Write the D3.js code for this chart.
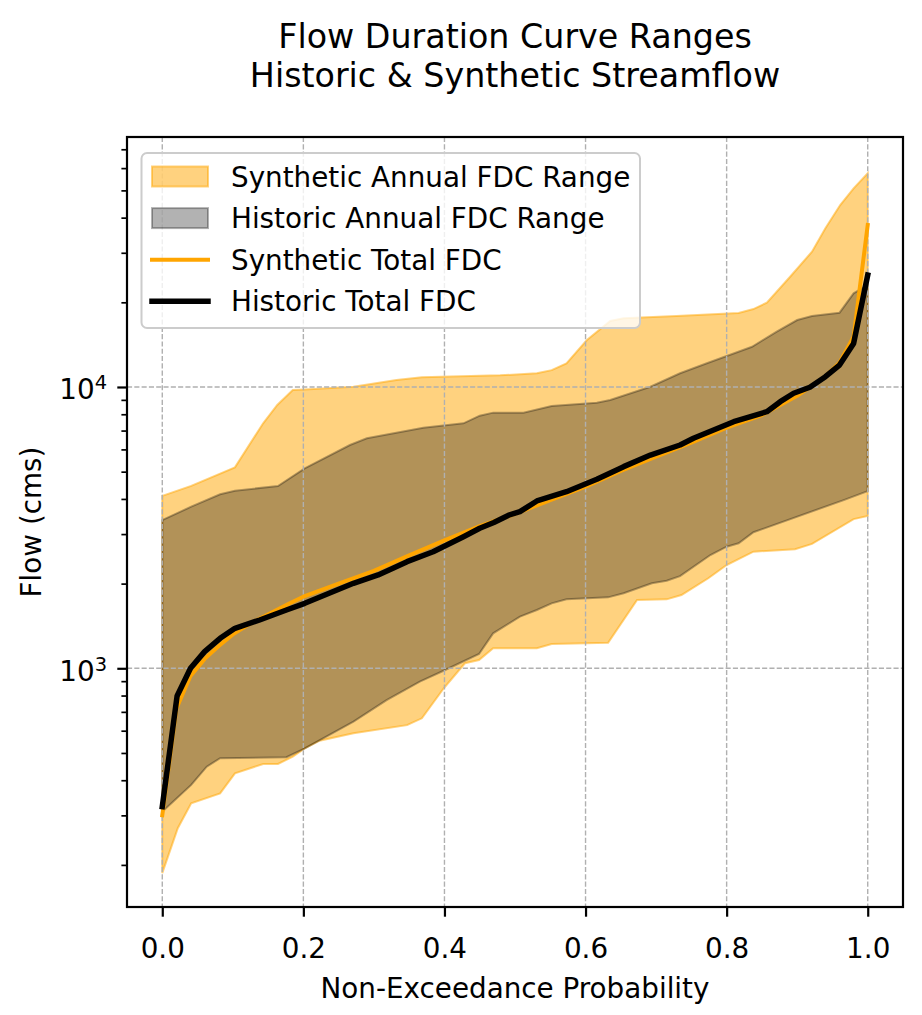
<!DOCTYPE html>
<html>
<head>
<meta charset="utf-8">
<script src="https://cdn.jsdelivr.net/npm/d3@7"></script>
<style>
  html, body { margin: 0; padding: 0; background: #fff; }
  text { font-family: "DejaVu Sans", sans-serif; fill: #000; }
</style>
</head>
<body>
<div id="container"></div>
<script>
// non-exceedance probability / flow (cms) pairs
const synthUpperP = [0, 0.041, 0.103, 0.143, 0.163, 0.185, 0.202, 0.271, 0.332, 0.368, 0.479, 0.531, 0.552, 0.573, 0.602, 0.635, 0.654, 0.729, 0.817, 0.838, 0.857, 0.890, 0.921, 0.940, 0.961, 0.980, 1.0];
const synthUpper  = [4100, 4450, 5180, 7430, 8630, 9750, 9790, 10020, 10590, 10830, 11000, 11190, 11480, 12140, 14690, 17160, 17540, 17880, 18330, 18930, 19940, 24660, 30270, 36650, 44340, 50800, 57500];

const synthLowerP = [0, 0.022, 0.041, 0.082, 0.103, 0.143, 0.164, 0.185, 0.202, 0.223, 0.271, 0.347, 0.368, 0.399, 0.429, 0.449, 0.469, 0.531, 0.552, 0.632, 0.673, 0.715, 0.736, 0.774, 0.800, 0.838, 0.897, 0.921, 0.980, 1.0];
const synthLower  = [187, 270, 331, 359, 423, 457, 457, 485, 519, 553, 588, 628, 664, 849, 1042, 1070, 1178, 1178, 1220, 1233, 1749, 1758, 1822, 2089, 2328, 2597, 2649, 2767, 3390, 3477];

const histUpperP = [0, 0.041, 0.082, 0.103, 0.164, 0.202, 0.266, 0.290, 0.370, 0.427, 0.450, 0.469, 0.512, 0.552, 0.616, 0.635, 0.692, 0.734, 0.772, 0.836, 0.871, 0.900, 0.921, 0.960, 0.980, 1.0];
const histUpper  = [3365, 3754, 4155, 4279, 4446, 5140, 6220, 6572, 7166, 7430, 7907, 8107, 8100, 8560, 8790, 8990, 10020, 11190, 12140, 13900, 15730, 17300, 17880, 18370, 21530, 23050];

const histLowerP = [0, 0.041, 0.063, 0.082, 0.176, 0.202, 0.271, 0.318, 0.365, 0.401, 0.449, 0.469, 0.507, 0.531, 0.552, 0.573, 0.632, 0.654, 0.694, 0.715, 0.734, 0.777, 0.800, 0.817, 0.838, 0.966, 1.0];
const histLower  = [309, 385, 447, 479, 483, 519, 646, 771, 896, 986, 1124, 1331, 1526, 1611, 1702, 1758, 1787, 1848, 2005, 2047, 2127, 2528, 2706, 2782, 3045, 3963, 4266];

const synthTotalP = [0, 0.02, 0.04, 0.06, 0.08, 0.10, 0.12, 0.14, 0.16, 0.18, 0.20, 0.25, 0.30, 0.35, 0.40, 0.45, 0.50, 0.55, 0.60, 0.65, 0.70, 0.75, 0.80, 0.85, 0.90, 0.94, 0.96, 0.98, 1.0];
const synthTotal  = [300, 720, 940, 1080, 1200, 1320, 1420, 1510, 1600, 1700, 1797, 2000, 2220, 2520, 2850, 3200, 3540, 3960, 4420, 5030, 5650, 6340, 7170, 7950, 9300, 10900, 12200, 15100, 37700];

const histTotalP = [0, 0.021, 0.040, 0.060, 0.082, 0.103, 0.138, 0.176, 0.202, 0.271, 0.306, 0.327, 0.347, 0.384, 0.427, 0.450, 0.470, 0.491, 0.507, 0.531, 0.573, 0.616, 0.654, 0.692, 0.734, 0.753, 0.810, 0.857, 0.876, 0.895, 0.918, 0.940, 0.960, 0.980, 1.0];
const histTotal  = [322, 797, 1000, 1146, 1278, 1387, 1485, 1611, 1702, 2005, 2147, 2267, 2394, 2597, 2937, 3146, 3300, 3500, 3604, 3933, 4245, 4700, 5210, 5730, 6220, 6572, 7527, 8170, 8867, 9498, 9980, 10880, 11970, 14290, 25000];

const xTicks = [0, 0.2, 0.4, 0.6, 0.8, 1.0];
const yMajor = [1000, 10000];
const yMinor = [200, 300, 400, 500, 600, 700, 800, 900, 2000, 3000, 4000, 5000, 6000, 7000, 8000, 9000, 20000, 30000, 40000, 50000, 60000, 70000];
const legendLabels = ["Synthetic Annual FDC Range", "Historic Annual FDC Range", "Synthetic Total FDC", "Historic Total FDC"];

const W = 922, H = 1015;
const L = 127, R = 903, T = 137, B = 907;
const FS = 27.8;

const svg = d3.select('#container').append('svg')
  .attr('width', W).attr('height', H);

const x = d3.scaleLinear().domain([-0.05, 1.05]).range([L, R]);
const y = d3.scaleLog().domain([141.7, 77400]).range([B, T]);

const zip = (p, v) => p.map((d, i) => [d, v[i]]);
const line = d3.line().x(d => x(d[0])).y(d => y(d[1]));
const band = (pu, vu, pl, vl) => line(zip(pu, vu).concat(zip(pl, vl).reverse())) + 'Z';

// ranges
svg.append('path')
  .attr('d', band(synthUpperP, synthUpper, synthLowerP, synthLower))
  .attr('fill', 'orange').attr('fill-opacity', 0.5)
  .attr('stroke', 'orange').attr('stroke-opacity', 0.5).attr('stroke-width', 2);

svg.append('path')
  .attr('d', band(histUpperP, histUpper, histLowerP, histLower))
  .attr('fill', 'black').attr('fill-opacity', 0.3)
  .attr('stroke', 'black').attr('stroke-opacity', 0.3).attr('stroke-width', 2);

// grid
const grid = svg.append('g')
  .attr('stroke', '#b0b0b0').attr('stroke-width', 1.4).attr('stroke-dasharray', '5.1,2.2');
grid.selectAll('line.gx').data(xTicks).join('line')
  .attr('x1', d => x(d)).attr('x2', d => x(d)).attr('y1', T).attr('y2', B);
grid.selectAll('line.gy').data(yMajor).join('line')
  .attr('x1', L).attr('x2', R).attr('y1', d => y(d)).attr('y2', d => y(d));

// total FDCs
svg.append('path')
  .attr('d', line(zip(synthTotalP, synthTotal)))
  .attr('fill', 'none').attr('stroke', 'orange').attr('stroke-width', 4)
  .attr('stroke-linejoin', 'round').attr('stroke-linecap', 'square');
svg.append('path')
  .attr('d', line(zip(histTotalP, histTotal)))
  .attr('fill', 'none').attr('stroke', 'black').attr('stroke-width', 5.5)
  .attr('stroke-linejoin', 'round').attr('stroke-linecap', 'square');

// axes
const xAxis = svg.append('g')
  .attr('transform', `translate(0,${B})`)
  .call(d3.axisBottom(x).tickValues(xTicks).tickFormat(d3.format('.1f')).tickSize(9.7));
xAxis.select('.domain').remove();
xAxis.selectAll('line').attr('stroke-width', 2.2);
xAxis.selectAll('text').attr('y', 50.5).attr('dy', null)
  .style('font-size', FS + 'px').style('font-family', '"DejaVu Sans", sans-serif');

const yMinorAxis = svg.append('g')
  .attr('transform', `translate(${L},0)`)
  .call(d3.axisLeft(y).tickValues(yMinor).tickFormat('').tickSize(5.6));
yMinorAxis.select('.domain').remove();
yMinorAxis.selectAll('line').attr('stroke-width', 1.7);

const yAxis = svg.append('g')
  .attr('transform', `translate(${L},0)`)
  .call(d3.axisLeft(y).tickValues(yMajor).tickFormat('').tickSize(9.7));
yAxis.select('.domain').remove();
yAxis.selectAll('line').attr('stroke-width', 2.2);
yAxis.selectAll('.tick text').each(function (d) {
  const t = d3.select(this).attr('x', -20).attr('dy', null).attr('y', 12)
    .attr('text-anchor', 'end')
    .style('font-size', FS + 'px').style('font-family', '"DejaVu Sans", sans-serif');
  t.append('tspan').text('10');
  t.append('tspan').attr('dy', -10).style('font-size', (FS * 0.7) + 'px')
    .text(Math.round(Math.log10(d)));
});

// frame
svg.append('rect')
  .attr('x', L).attr('y', T).attr('width', R - L).attr('height', B - T)
  .attr('fill', 'none').attr('stroke', 'black').attr('stroke-width', 2.2);

// legend
const lg = svg.append('g');
lg.append('rect')
  .attr('x', 141.5).attr('y', 153).attr('width', 498.5).attr('height', 175).attr('rx', 5.6)
  .attr('fill', 'white').attr('fill-opacity', 0.8)
  .attr('stroke', '#cccccc').attr('stroke-width', 2);
legendLabels.forEach((lab, i) => {
  const cy = 176.5 + i * 41.6;
  if (i === 0) {
    lg.append('rect').attr('x', 152).attr('y', cy - 10).attr('width', 56).attr('height', 20)
      .attr('fill', 'orange').attr('fill-opacity', 0.5)
      .attr('stroke', 'orange').attr('stroke-opacity', 0.5).attr('stroke-width', 2);
  } else if (i === 1) {
    lg.append('rect').attr('x', 152).attr('y', cy - 10).attr('width', 56).attr('height', 20)
      .attr('fill', 'black').attr('fill-opacity', 0.3)
      .attr('stroke', 'black').attr('stroke-opacity', 0.3).attr('stroke-width', 2);
  } else {
    lg.append('line').attr('x1', 152).attr('x2', 208).attr('y1', cy).attr('y2', cy)
      .attr('stroke', i === 2 ? 'orange' : 'black').attr('stroke-width', i === 2 ? 4 : 5.5)
      .attr('stroke-linecap', 'square');
  }
  lg.append('text').attr('x', 231).attr('y', cy + 10)
    .style('font-size', FS + 'px').text(lab);
});

// labels
svg.append('text').attr('x', (L + R) / 2).attr('y', 998).attr('text-anchor', 'middle')
  .style('font-size', FS + 'px').text('Non-Exceedance Probability');
svg.append('text').attr('transform', `translate(41,${(T + B) / 2}) rotate(-90)`)
  .attr('text-anchor', 'middle').style('font-size', FS + 'px').text('Flow (cms)');
svg.append('text').attr('x', (L + R) / 2).attr('y', 48).attr('text-anchor', 'middle')
  .style('font-size', '33.3px').text('Flow Duration Curve Ranges');
svg.append('text').attr('x', (L + R) / 2).attr('y', 87).attr('text-anchor', 'middle')
  .style('font-size', '33.3px').text('Historic & Synthetic Streamflow');
</script>
</body>
</html>
